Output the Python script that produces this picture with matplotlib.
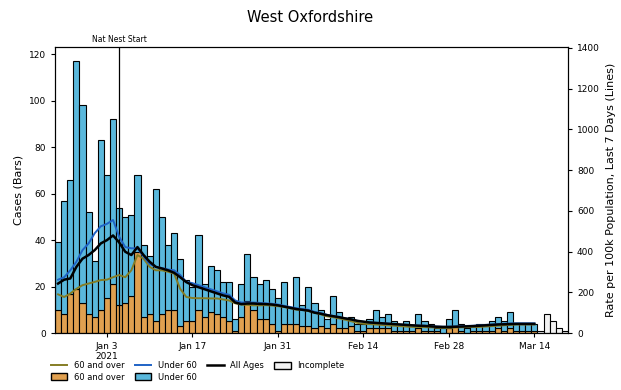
import numpy as np
import pandas as pd
import matplotlib
matplotlib.use("Agg")
import matplotlib.pyplot as plt
import matplotlib.dates as mdates
from matplotlib.lines import Line2D
from matplotlib.patches import Patch

# daily cases, complete days (Dec 26 - Mar 14)
days = pd.date_range("2020-12-26", "2021-03-14")
cases_total = [39, 57, 66, 117, 98, 52, 31, 83, 68, 92,
               54, 50, 51, 68, 38, 33, 62, 50, 38, 43,
               32, 23, 20, 42, 21, 29, 27, 22, 22, 6,
               21, 34, 24, 21, 23, 19, 15, 22, 11, 24,
               12, 20, 13, 10, 6, 16, 9, 6, 7, 4,
               4, 6, 10, 7, 8, 5, 4, 5, 3, 8,
               5, 4, 2, 2, 6, 10, 4, 2, 3, 4,
               4, 5, 7, 5, 9, 4, 4, 4, 4]
cases_60plus = [10, 8, 17, 19, 13, 8, 7, 10, 15, 21,
                12, 13, 16, 35, 7, 8, 5, 8, 10, 10,
                3, 5, 5, 10, 7, 9, 8, 7, 5, 1,
                7, 14, 10, 6, 6, 4, 1, 4, 4, 4,
                3, 3, 2, 3, 2, 4, 2, 2, 3, 1,
                1, 2, 2, 2, 2, 1, 1, 1, 1, 2,
                1, 1, 1, 0, 2, 3, 1, 0, 1, 1,
                1, 1, 2, 1, 2, 1, 1, 1, 1]

# incomplete days (Mar 15 - Mar 19)
inc_days = pd.date_range("2021-03-15", "2021-03-19")
inc_cases = [1, 8, 5, 2, 1]

# 7 day rates per 100k
rate_all = [243, 262, 268, 325, 365, 383, 407, 440, 456, 479,
            445, 399, 383, 422, 383, 350, 325, 317, 308, 296,
            274, 250, 235, 225, 215, 205, 195, 185, 178, 150,
            142, 145, 145, 143, 142, 140, 136, 130, 124, 118,
            114, 110, 100, 95, 88, 83, 78, 72, 67, 60,
            56, 52, 50, 48, 46, 44, 42, 40, 38, 36,
            35, 33, 31, 30, 30, 31, 32, 33, 34, 36,
            38, 40, 42, 43, 44, 45, 45, 45, 45]
rate_under60 = [262, 274, 308, 350, 407, 440, 490, 524, 536, 555,
                473, 422, 416, 416, 376, 339, 325, 319, 312, 308,
                285, 251, 245, 235, 225, 215, 205, 195, 188, 160,
                150, 150, 150, 148, 146, 144, 140, 134, 128, 122,
                118, 114, 104, 98, 90, 84, 79, 73, 67, 60,
                56, 52, 50, 48, 46, 44, 42, 40, 38, 37,
                36, 34, 32, 31, 31, 32, 34, 35, 36, 38,
                40, 42, 44, 46, 47, 48, 48, 48, 48]
rate_60plus = [190, 177, 194, 217, 235, 243, 251, 260, 262, 274,
               285, 274, 308, 383, 365, 325, 308, 308, 301, 292,
               217, 177, 172, 171, 171, 170, 170, 165, 160, 146,
               140, 138, 136, 136, 137, 135, 132, 128, 122, 115,
               114, 108, 100, 92, 82, 78, 72, 66, 58, 50,
               46, 44, 42, 40, 38, 36, 34, 32, 30, 30,
               29, 28, 27, 26, 26, 27, 28, 30, 30, 30,
               32, 34, 36, 38, 40, 42, 42, 42, 42]

tick_dates = ["2021-01-03", "2021-01-17", "2021-01-31", "2021-02-14", "2021-02-28", "2021-03-14"]
tick_labels = ["Jan 3\n2021", "Jan 17", "Jan 31", "Feb 14", "Feb 28", "Mar 14"]
lockdown = "2021-01-05"

c_old = "#e0a050"
c_young = "#5ab8dc"
c_old_line = "#857d25"
c_young_line = "#1f63c6"

fig = plt.figure(figsize=(6.21, 3.9), dpi=100)
ax = fig.add_axes([0.0886, 0.146, 0.826, 0.733])
ax2 = ax.twinx()

under60 = np.array(cases_total) - np.array(cases_60plus)
ax.bar(days, cases_60plus, width=1.0, color=c_old, edgecolor="black", linewidth=0.8)
ax.bar(days, under60, bottom=cases_60plus, width=1.0, color=c_young, edgecolor="black", linewidth=0.8)
ax.bar(inc_days, inc_cases, width=1.0, color="#f2f2f2", edgecolor="black", linewidth=0.8)

ax2.plot(days, rate_60plus, color=c_old_line, lw=1.4)
ax2.plot(days, rate_under60, color=c_young_line, lw=1.4)
ax2.plot(days, rate_all, color="black", lw=1.8)

ld = pd.Timestamp(lockdown)
ax.axvline(ld, color="black", lw=0.9)
ax.text(ld, 124.5, "Nat Nest Start", ha="center", va="bottom", fontsize=5.5)

ax.set_xlim(pd.Timestamp("2020-12-25 12:00"), pd.Timestamp("2021-03-19 12:00"))
ax.set_ylim(0, 123)
ax2.set_ylim(0, 1403)
ax.set_yticks(range(0, 121, 20))
ax2.set_yticks(range(0, 1401, 200))
ax.set_xticks([pd.Timestamp(d) for d in tick_dates])
ax.set_xticklabels(tick_labels)
for a in (ax, ax2):
    a.tick_params(labelsize=6.5, length=3)

ax.set_ylabel("Cases (Bars)", fontsize=8)
ax2.set_ylabel("Rate per 100k Population, Last 7 Days (Lines)", fontsize=8)
fig.suptitle("West Oxfordshire", fontsize=10.5, y=0.975)

handles = [
    Line2D([], [], color=c_old_line, lw=1.4),
    Patch(facecolor=c_old, edgecolor="black"),
    Line2D([], [], color=c_young_line, lw=1.4),
    Patch(facecolor=c_young, edgecolor="black"),
    Line2D([], [], color="black", lw=1.8),
    Patch(facecolor="#f2f2f2", edgecolor="black"),
]
labels = ["60 and over", "60 and over", "Under 60", "Under 60", "All Ages", "Incomplete"]
fig.legend(handles, labels, ncol=4, loc="upper left", bbox_to_anchor=(0.075, 0.085),
           frameon=False, fontsize=6, handlelength=2.0, handleheight=0.9,
           columnspacing=1.2, labelspacing=0.3, borderpad=0)

fig.savefig("out.png", dpi=100)
